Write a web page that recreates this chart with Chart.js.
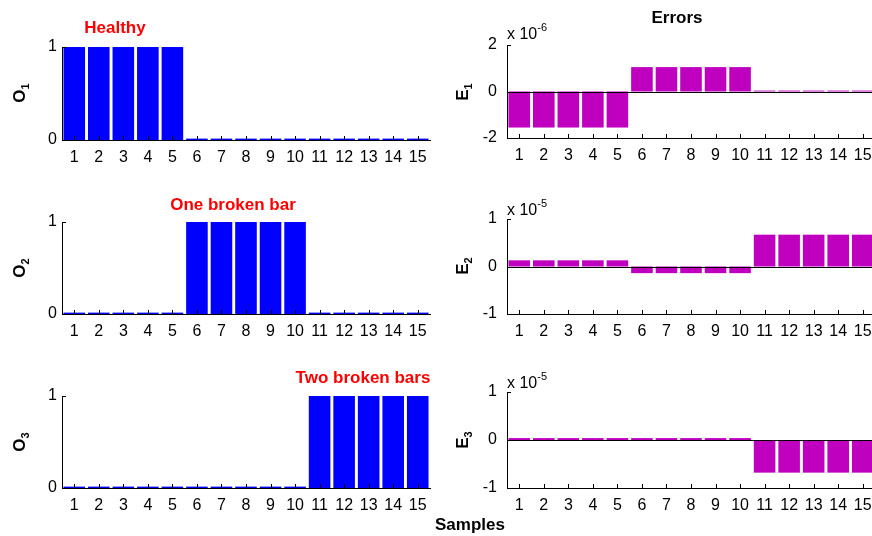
<!DOCTYPE html>
<html>
<head>
<meta charset="utf-8">
<script src="https://cdn.jsdelivr.net/npm/chart.js@4.4.1/dist/chart.umd.min.js"></script>
<style>
html, body { margin: 0; padding: 0; width: 872px; height: 536px; overflow: hidden; background: #fff; }
body { position: relative; font-family: "Liberation Sans", Arial, sans-serif; }
canvas { position: absolute; }
.lbl { position: absolute; white-space: nowrap; font-weight: bold; transform: translate(-50%, -50%); line-height: 1; }
.red { color: #ff0000; font-size: 17px; }
.ytitle { font-size: 17px; transform: translate(-50%, -50%) rotate(-90deg); }
.ytitle sub { font-size: 11px; }
.expo { position: absolute; white-space: nowrap; font-size: 16px; line-height: 16px; }
.expo sup { font-size: 11px; line-height: 0; position: relative; top: -2px; }
</style>
</head>
<body>
<canvas id="o1" width="440" height="170"></canvas>
<canvas id="o2" width="440" height="170"></canvas>
<canvas id="o3" width="440" height="170"></canvas>
<canvas id="e1" width="440" height="170"></canvas>
<canvas id="e2" width="440" height="170"></canvas>
<canvas id="e3" width="440" height="170"></canvas>

<div class="lbl red" style="left:115px; top:27px;">Healthy</div>
<div class="lbl red" style="left:233px; top:204px;">One broken bar</div>
<div class="lbl red" style="left:363px; top:377px;">Two broken bars</div>
<div class="lbl" style="left:677px; top:17px; font-size:17px;">Errors</div>
<div class="lbl" style="left:470px; top:524px; font-size:17px;">Samples</div>

<div class="lbl ytitle" style="left:21px; top:93px;">O<sub>1</sub></div>
<div class="lbl ytitle" style="left:21px; top:268px;">O<sub>2</sub></div>
<div class="lbl ytitle" style="left:21px; top:442px;">O<sub>3</sub></div>
<div class="lbl ytitle" style="left:464px; top:92px;">E<sub>1</sub></div>
<div class="lbl ytitle" style="left:464px; top:266px;">E<sub>2</sub></div>
<div class="lbl ytitle" style="left:464px; top:440px;">E<sub>3</sub></div>

<div class="expo" style="left:507px; top:26px;">x 10<sup>-6</sup></div>
<div class="expo" style="left:507px; top:202px;">x 10<sup>-5</sup></div>
<div class="expo" style="left:507px; top:375px;">x 10<sup>-5</sup></div>

<script>
// sample numbers on the x axis
const samples = ['1', '2', '3', '4', '5', '6', '7', '8', '9', '10', '11', '12', '13', '14', '15'];

// outputs of the classifier (left column)
const o1Values = [1, 1, 1, 1, 1, 0.015, 0.015, 0.015, 0.015, 0.015, 0.015, 0.015, 0.015, 0.015, 0.015];
const o2Values = [0.015, 0.015, 0.015, 0.015, 0.015, 1, 1, 1, 1, 1, 0.015, 0.015, 0.015, 0.015, 0.015];
const o3Values = [0.015, 0.015, 0.015, 0.015, 0.015, 0.015, 0.015, 0.015, 0.015, 0.015, 1, 1, 1, 1, 1];
const oTicks = [0, 1];

// errors (right column), mantissa shown on the axis, times 10^exponent
const e1Values = [-1.55, -1.55, -1.55, -1.55, -1.55, 1.05, 1.05, 1.05, 1.05, 1.05, 0.04, 0.04, 0.04, 0.04, 0.04];
const e1Exponent = -6;
const e1Ticks = [-2, 0, 2];
const e2Values = [0.13, 0.13, 0.13, 0.13, 0.13, -0.14, -0.14, -0.14, -0.14, -0.14, 0.67, 0.67, 0.67, 0.67, 0.67];
const e2Exponent = -5;
const e2Ticks = [-1, 0, 1];
const e3Values = [0.04, 0.04, 0.04, 0.04, 0.04, 0.04, 0.04, 0.04, 0.04, 0.04, -0.68, -0.68, -0.68, -0.68, -0.68];
const e3Exponent = -5;
const e3Ticks = [-1, 0, 1];

const tickFont = { family: '"Liberation Sans", Arial, sans-serif', size: 16 };

// matlab style ticks pointing into the plot, plus the bar baseline
const innerTicks = {
    id: 'innerTicks',
    afterDatasetsDraw(chart, args, opts) {
        const { ctx, chartArea, scales: { x, y } } = chart;
        ctx.save();
        ctx.strokeStyle = '#000';
        ctx.lineWidth = 1;
        ctx.beginPath();
        if (opts.baseline) {
            const py = Math.round(y.getPixelForValue(0)) + 0.5;
            ctx.moveTo(chartArea.left, py);
            ctx.lineTo(chartArea.right, py);
        }
        x.ticks.forEach((t, i) => {
            const px = Math.round(x.getPixelForTick(i)) + 0.5;
            ctx.moveTo(px, chartArea.bottom);
            ctx.lineTo(px, chartArea.bottom - 4);
        });
        y.ticks.forEach((t, i) => {
            const py = Math.round(y.getPixelForTick(i)) + 0.5;
            ctx.moveTo(chartArea.left, py);
            ctx.lineTo(chartArea.left + 4, py);
        });
        ctx.stroke();
        ctx.restore();
    }
};

function makePanel(id, values, color, ticks, box, yPad, baseline) {
    const canvas = document.getElementById(id);
    const top = box.top - 40;
    const height = box.bottom - box.top + 70;
    canvas.height = height;
    canvas.style.left = box.left + 'px';
    canvas.style.top = top + 'px';

    new Chart(canvas.getContext('2d'), {
        type: 'bar',
        data: {
            labels: samples,
            datasets: [{
                data: values,
                backgroundColor: color,
                borderWidth: 0,
                barPercentage: 0.88,
                categoryPercentage: 1
            }]
        },
        options: {
            responsive: false,
            animation: false,
            events: [],
            layout: { padding: { top: 40, bottom: 0, left: 0, right: box.left + 440 - box.right } },
            plugins: { legend: { display: false }, tooltip: { enabled: false }, innerTicks: { baseline: baseline } },
            scales: {
                x: {
                    offset: true,
                    grid: { display: false, drawTicks: false },
                    border: { color: '#000', width: 1 },
                    ticks: { color: '#000', font: tickFont, padding: 8, maxRotation: 0, autoSkip: false },
                    afterFit: s => { s.height = 30; }
                },
                y: {
                    min: ticks[0],
                    max: ticks[ticks.length - 1],
                    afterBuildTicks: s => { s.ticks = ticks.map(v => ({ value: v })); },
                    grid: { display: false, drawTicks: false },
                    border: { color: '#000', width: 1 },
                    ticks: { color: '#000', font: tickFont, padding: yPad },
                    afterFit: s => { s.width = box.areaLeft - box.left; }
                }
            }
        },
        plugins: [innerTicks]
    });
}

const blue = '#0000ff';
const magenta = '#bf00bf';

makePanel('o1', o1Values, blue, oTicks, { left: 0, areaLeft: 62, right: 430, top: 47, bottom: 140 }, 5, false);
makePanel('o2', o2Values, blue, oTicks, { left: 0, areaLeft: 62, right: 430, top: 222, bottom: 314 }, 5, false);
makePanel('o3', o3Values, blue, oTicks, { left: 0, areaLeft: 62, right: 430, top: 396, bottom: 488 }, 5, false);
makePanel('e1', e1Values, magenta, e1Ticks, { left: 440, areaLeft: 507, right: 875, top: 45, bottom: 138 }, 10, true);
makePanel('e2', e2Values, magenta, e2Ticks, { left: 440, areaLeft: 507, right: 875, top: 219, bottom: 314 }, 10, true);
makePanel('e3', e3Values, magenta, e3Ticks, { left: 440, areaLeft: 507, right: 875, top: 392, bottom: 488 }, 10, true);
</script>
</body>
</html>
